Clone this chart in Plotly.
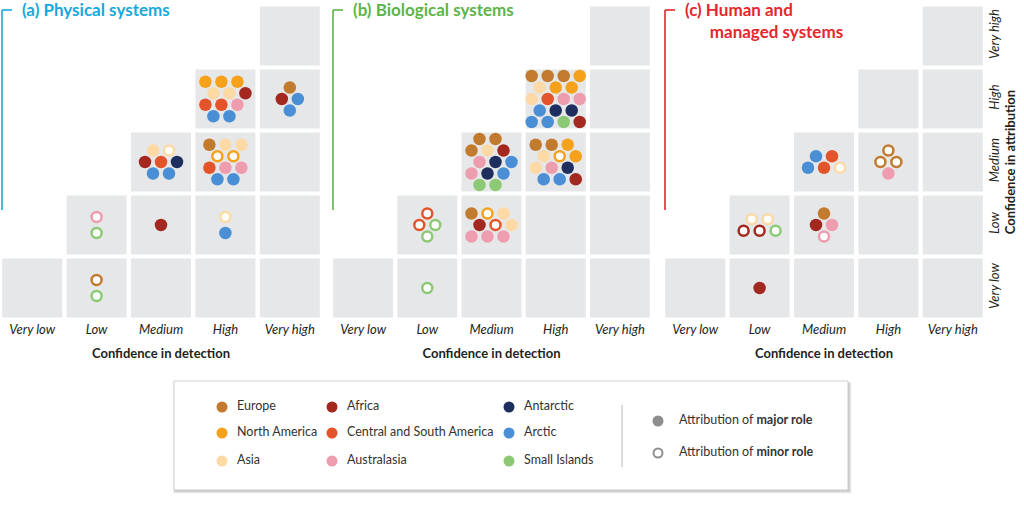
import plotly.graph_objects as go

# ---------------- data ----------------
DETECTION = ["Very low", "Low", "Medium", "High", "Very high"]
ATTRIBUTION = ["Very low", "Low", "Medium", "High", "Very high"]

REGION_CODES = ["E", "N", "S", "F", "C", "U", "T", "R", "I"]
REGION_NAMES = ["Europe", "North America", "Asia", "Africa",
                "Central and South America", "Australasia",
                "Antarctic", "Arctic", "Small Islands"]
REGION_COLORS = ["#C27B2E", "#F6A11C", "#FDD9A6", "#A3281F",
                 "#E4542A", "#EE9DAE", "#1E2F5F", "#4A8FD5", "#8DC975"]

# Each cell: rows of impacts read top to bottom (upper case = major role,
# lower case = minor role; a space skips half a slot in the staggered rows)
PHYSICAL = {
    ("High", "High"): ["N N N", " S S F", "C C U", " R R"],
    ("Very high", "High"): [" E", "F R", " R"],
    ("Medium", "Medium"): [" S s", "F C T", " R R"],
    ("High", "Medium"): ["E S S", " n n", "C U U", " R R"],
    ("Low", "Low"): ["u", "i"],
    ("Medium", "Low"): ["F"],
    ("High", "Low"): ["s", "R"],
    ("Low", "Very low"): ["e", "i"],
}
BIOLOGICAL = {
    ("High", "High"): ["E E E N", " S N N", "S C U U", " R T T", "R R I F"],
    ("Medium", "Medium"): [" E E", "E S F", " U T R", "U T R", " I I"],
    ("High", "Medium"): ["E E N", " S n N", "S U T", " R R F"],
    ("Low", "Low"): [" c", "c i", " i"],
    ("Medium", "Low"): ["E n S", " F c S", "U U U"],
    ("Low", "Very low"): ["i"],
}
HUMAN = {
    ("Medium", "Medium"): [" R C", "R C s"],
    ("High", "Medium"): [" e", "e e", " U"],
    ("Low", "Low"): [" s s", "f f i"],
    ("Medium", "Low"): [" E", "F U", " u"],
    ("Low", "Very low"): ["F"],
}
PANELS = [PHYSICAL, BIOLOGICAL, HUMAN]
PANEL_TITLES = ["(a) Physical systems", "(b) Biological systems",
                "(c) Human and<br>\u00a0\u00a0\u00a0\u00a0\u00a0\u00a0managed systems"]
PANEL_COLORS = ["#17A9DB", "#5DB548", "#E5262D"]

ROLE_LABELS = ["Attribution of <b>major role</b>", "Attribution of <b>minor role</b>"]

X_TITLE = "Confidence in detection"
Y_TITLE = "Confidence in attribution"

# ---------------- layout / style ----------------
W, H = 1024, 507
PANEL_PX = [(0, 322), (331, 652), (663, 985)]
Y_TOP_PX, Y_BOT_PX = 4.5, 319.5
CELL_BG = "#E6E7E8"
TXT = "#231F20"
FONT = "Lato, Open Sans, sans-serif"
TFONT = "Lato, Open Sans, sans-serif"
HS, VS, VS_STACK = 8.0, 11.5, 16.0
DOT = 12.5

color_of = dict(zip(REGION_CODES, REGION_COLORS))


def arrange(rows):
    pts, y, prev = [], 0.0, None
    for row in rows:
        cols = {i for i, ch in enumerate(row) if ch != " "}
        if prev is not None:
            y += VS_STACK if (cols & prev) else VS
        for i, ch in enumerate(row):
            if ch != " ":
                pts.append((i * HS, y, ch))
        prev = cols
    xs = [p[0] for p in pts]
    ys = [p[1] for p in pts]
    cx, cy = (min(xs) + max(xs)) / 2, (min(ys) + max(ys)) / 2
    return [(x - cx, y - cy, ch) for x, y, ch in pts]


def px(x):
    return x / W


def py(y):
    return 1 - y / H


fig = go.Figure()
shapes = []
annotations = []
ppy = (Y_BOT_PX - Y_TOP_PX) / 5

for p, cells in enumerate(PANELS):
    x0, x1 = PANEL_PX[p]
    ppx = (x1 - x0) / 5
    xa = "x" if p == 0 else f"x{p + 1}"
    # grey cells (upper triangle)
    for di, d in enumerate(DETECTION):
        for ai, a in enumerate(ATTRIBUTION):
            if di >= ai:
                shapes.append(dict(type="rect", xref=xa, yref="y",
                                   x0=di - 30 / ppx, x1=di + 30 / ppx,
                                   y0=ai - 29.5 / ppy, y1=ai + 29.5 / ppy,
                                   fillcolor=CELL_BG, line=dict(width=0), layer="below"))
    maj = dict(x=[], y=[], c=[])
    mnr = dict(x=[], y=[], c=[])
    for (d, a), rows in cells.items():
        di, ai = DETECTION.index(d), ATTRIBUTION.index(a)
        for dx, dy, ch in arrange(rows):
            tgt = maj if ch.isupper() else mnr
            tgt["x"].append(di + dx / ppx)
            tgt["y"].append(ai - dy / ppy)
            tgt["c"].append(color_of[ch.upper()])
    fig.add_trace(go.Scatter(x=maj["x"], y=maj["y"], mode="markers", xaxis=xa, yaxis="y",
                             marker=dict(size=DOT, color=maj["c"], line=dict(width=0)),
                             showlegend=False, hoverinfo="skip"))
    fig.add_trace(go.Scatter(x=mnr["x"], y=mnr["y"], mode="markers", xaxis=xa, yaxis="y",
                             marker=dict(size=DOT - 2.5, color="white",
                                         line=dict(width=2.5, color=mnr["c"])),
                             showlegend=False, hoverinfo="skip"))
    # bracket
    bx = x0 + 2
    shapes.append(dict(type="line", xref="paper", yref="paper", x0=px(bx), x1=px(bx),
                       y0=py(10), y1=py(210), line=dict(color=PANEL_COLORS[p], width=1.6)))
    shapes.append(dict(type="line", xref="paper", yref="paper", x0=px(bx), x1=px(bx + 10),
                       y0=py(10), y1=py(10), line=dict(color=PANEL_COLORS[p], width=1.6)))
    annotations.append(dict(text=f"<b>{PANEL_TITLES[p]}</b>", xref="paper", yref="paper",
                            x=px(x0 + 21), y=py(-2), align="left", borderpad=0,
                            xanchor="left", yanchor="top", showarrow=False,
                            font=dict(family=TFONT, size=17, color=PANEL_COLORS[p])))

    fig.layout[("xaxis" if p == 0 else f"xaxis{p + 1}")] = dict(
        domain=[px(x0), px(x1)], range=[-0.5, 4.5], anchor="y",
        tickvals=list(range(5)), ticktext=[f"<i>{t}</i>" for t in DETECTION],
        tickfont=dict(family=FONT, size=13, color=TXT), ticks="",
        showgrid=False, zeroline=False, showline=False, fixedrange=True,
        title=dict(text=f"<b>{X_TITLE}</b>", font=dict(family=FONT, size=13, color=TXT),
                   standoff=13))

fig.layout.yaxis = dict(domain=[py(Y_BOT_PX), py(Y_TOP_PX)], range=[-0.5, 4.5],
                        anchor="x3", side="right",
                        tickvals=list(range(5)), ticktext=[f"<i>{t}</i>" for t in ATTRIBUTION],
                        tickangle=-90, tickfont=dict(family=FONT, size=13, color=TXT),
                        ticks="", showgrid=False, zeroline=False, showline=False,
                        title=dict(text=f"<b>{Y_TITLE}</b>",
                                   font=dict(family=FONT, size=13, color=TXT), standoff=4))

# ---------------- legend box ----------------
BX0, BY0, BX1, BY1 = 174, 381, 848, 490
for k, op in enumerate([0.10, 0.08, 0.06]):
    o = k + 1.5
    shapes.append(dict(type="rect", xref="paper", yref="paper",
                       x0=px(BX0 - 1 + o * 0.3), x1=px(BX1 + o), y0=py(BY1 + o), y1=py(BY0 + o * 0.6),
                       fillcolor=f"rgba(0,0,0,{op})", line=dict(width=0), layer="below"))
shapes.append(dict(type="rect", xref="paper", yref="paper",
                   x0=px(BX0), x1=px(BX1), y0=py(BY1), y1=py(BY0),
                   fillcolor="white", line=dict(color="#D0D0D0", width=1), layer="below"))
shapes.append(dict(type="line", xref="x4", yref="y4", x0=448, x1=448, y0=24, y1=86,
                   line=dict(color="#BBBBBB", width=1)))

LEG_COL_X = [48, 158, 335]
LEG_ROW_Y = [26, 52, 80]
LEG_TEXT_GAP = 15
lx, ly = [], []
for i in range(len(REGION_NAMES)):
    lx.append(LEG_COL_X[i // 3])
    ly.append(LEG_ROW_Y[i % 3])
LFONT = dict(family=FONT, size=12.5, color="#333333")
fig.add_trace(go.Scatter(x=lx, y=ly, mode="markers", xaxis="x4", yaxis="y4",
                         marker=dict(size=11, color=REGION_COLORS),
                         showlegend=False, hoverinfo="skip"))
fig.add_trace(go.Scatter(x=[v + LEG_TEXT_GAP for v in lx], y=ly, mode="text",
                         xaxis="x4", yaxis="y4", text=REGION_NAMES,
                         textposition="middle right", textfont=LFONT,
                         showlegend=False, hoverinfo="skip"))
ROLE_X, ROLE_Y = [484, 484], [40, 72]
fig.add_trace(go.Scatter(x=ROLE_X[:1], y=ROLE_Y[:1], mode="markers", xaxis="x4", yaxis="y4",
                         marker=dict(size=11, color="#8E8E8E"),
                         showlegend=False, hoverinfo="skip"))
fig.add_trace(go.Scatter(x=ROLE_X[1:], y=ROLE_Y[1:], mode="markers", xaxis="x4", yaxis="y4",
                         marker=dict(size=9, color="white", line=dict(width=2, color="#8E8E8E")),
                         showlegend=False, hoverinfo="skip"))
fig.add_trace(go.Scatter(x=[v + LEG_TEXT_GAP + 6 for v in ROLE_X], y=ROLE_Y, mode="text",
                         xaxis="x4", yaxis="y4", text=ROLE_LABELS,
                         textposition="middle right", textfont=LFONT,
                         showlegend=False, hoverinfo="skip"))
fig.layout.xaxis4 = dict(domain=[px(BX0), px(BX1)], range=[0, BX1 - BX0], anchor="y4",
                         visible=False, fixedrange=True)
fig.layout.yaxis4 = dict(domain=[py(BY1), py(BY0)], range=[BY1 - BY0, 0], anchor="x4",
                         visible=False, fixedrange=True)

fig.update_layout(width=W, height=H, margin=dict(l=0, r=0, t=0, b=0, pad=0),
                  paper_bgcolor="white", plot_bgcolor="rgba(0,0,0,0)",
                  shapes=shapes, annotations=annotations, showlegend=False)
fig.write_html("out.html", config={"displayModeBar": False},
               post_script="document.body.style.margin='0px';")
